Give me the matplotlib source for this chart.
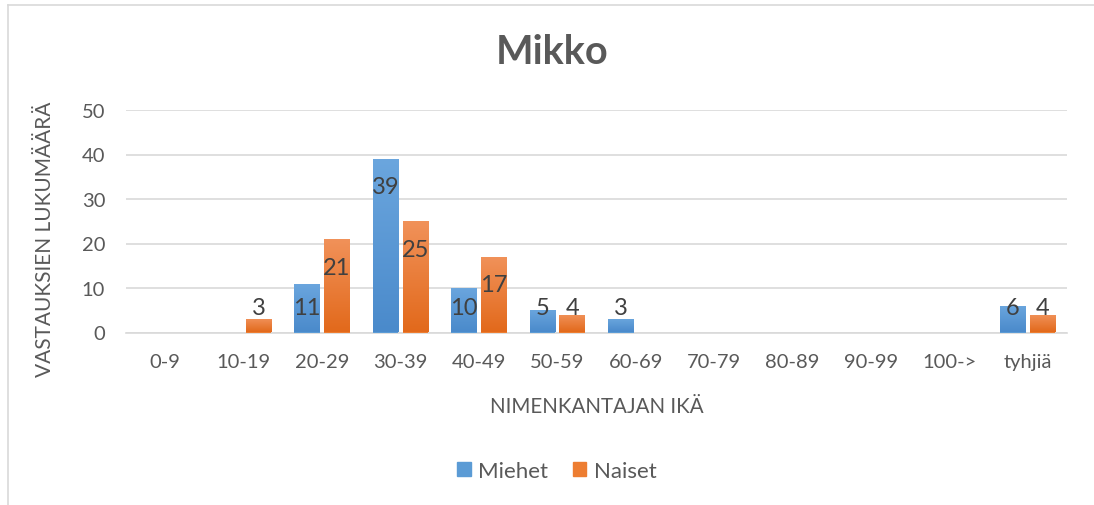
import numpy as np
import matplotlib
matplotlib.use("Agg")
import matplotlib.pyplot as plt
from matplotlib.colors import LinearSegmentedColormap
from matplotlib.lines import Line2D
from matplotlib.patches import Rectangle

categories = ["0-9", "10-19", "20-29", "30-39", "40-49", "50-59", "60-69",
              "70-79", "80-89", "90-99", "100->", "tyhjiä"]
miehet = [0, 0, 11, 39, 10, 5, 3, 0, 0, 0, 0, 6]
naiset = [0, 3, 21, 25, 17, 4, 0, 0, 0, 0, 0, 4]
series_names = ["Miehet", "Naiset"]
yticks = [0, 10, 20, 30, 40, 50]

FONT = "Lato"
plt.rcParams["font.family"] = [FONT, "DejaVu Sans"]

W, H = 1094, 506
fig = plt.figure(figsize=(W / 100, H / 100), dpi=100)
ax = fig.add_axes([126 / W, 1 - 333.5 / H, (1067 - 126) / W, (333.5 - 111) / H])

x = np.arange(len(categories))
bw = 0.325
off = 0.19

blue_grad = LinearSegmentedColormap.from_list("b", ["#4A8ACB", "#6BA6DE"])
orng_grad = LinearSegmentedColormap.from_list("o", ["#E2691B", "#F1925A"])
grad = np.linspace(0, 1, 256).reshape(-1, 1)

def draw(vals, xs, cmap, solid):
    bars = ax.bar(xs, vals, width=bw, color=solid, zorder=3, linewidth=0)
    for b in bars:
        h = b.get_height()
        if h <= 0:
            continue
        x0 = b.get_x()
        im = ax.imshow(grad, cmap=cmap, aspect="auto", origin="lower",
                       extent=[x0, x0 + b.get_width(), 0, h], zorder=3.5)
        im.set_clip_path(b)
    return bars

draw(miehet, x - off, blue_grad, "#5B9BD5")
draw(naiset, x + off, orng_grad, "#ED7D31")

for vals, xs in ((miehet, x - off), (naiset, x + off)):
    for xi, v in zip(xs, vals):
        if v > 0:
            ax.text(xi, max(v - 6.3, 5.6), str(v), ha="center", va="center",
                    fontsize=17, color="#404040", zorder=5)

ax.set_xlim(-0.5, len(categories) - 0.5)
ax.set_ylim(0, 50)
ax.set_yticks(yticks)
ax.set_xticks(x)
ax.set_xticklabels(categories)
ax.tick_params(axis="both", length=0, labelsize=14.5, colors="#595959")
ax.tick_params(axis="y", pad=15)
ax.tick_params(axis="x", pad=15)
ax.grid(axis="y", color="#D9D9D9", linewidth=1.2, zorder=0)
ax.set_axisbelow(True)
for s in ("top", "right", "left"):
    ax.spines[s].set_visible(False)
ax.spines["bottom"].set_color("#D9D9D9")
ax.spines["bottom"].set_linewidth(1.2)
ax.set_facecolor("none")

fig.text(552 / W, 1 - 52 / H, "Mikko", ha="center", va="center",
         fontsize=28.5, fontweight="bold", color="#595959")
fig.text(45 / W, 1 - 239 / H, "VASTAUKSIEN LUKUMÄÄRÄ", rotation=90,
         ha="center", va="center", fontsize=15, color="#595959")
fig.text(597 / W, 1 - 407 / H, "NIMENKANTAJAN IKÄ", ha="center", va="center",
         fontsize=14.8, color="#595959")

handles = [Rectangle((0, 0), 1, 1, color="#5B9BD5"), Rectangle((0, 0), 1, 1, color="#ED7D31")]
fig.legend(handles, series_names, loc="center", bbox_to_anchor=(557 / W, 1 - 472 / H),
           ncol=2, frameon=False, fontsize=16, labelcolor="#595959",
           handlelength=0.6, handleheight=0.6, handletextpad=0.35, columnspacing=1.1)

# chart border (top and left visible)
fig.add_artist(Line2D([8 / W, 8 / W], [0, 1 - 6 / H], transform=fig.transFigure,
                      color="#D9D9D9", linewidth=1.2))
fig.add_artist(Line2D([8 / W, 1], [1 - 6 / H, 1 - 6 / H], transform=fig.transFigure,
                      color="#D9D9D9", linewidth=1.2))

fig.savefig("out.png", dpi=100)
